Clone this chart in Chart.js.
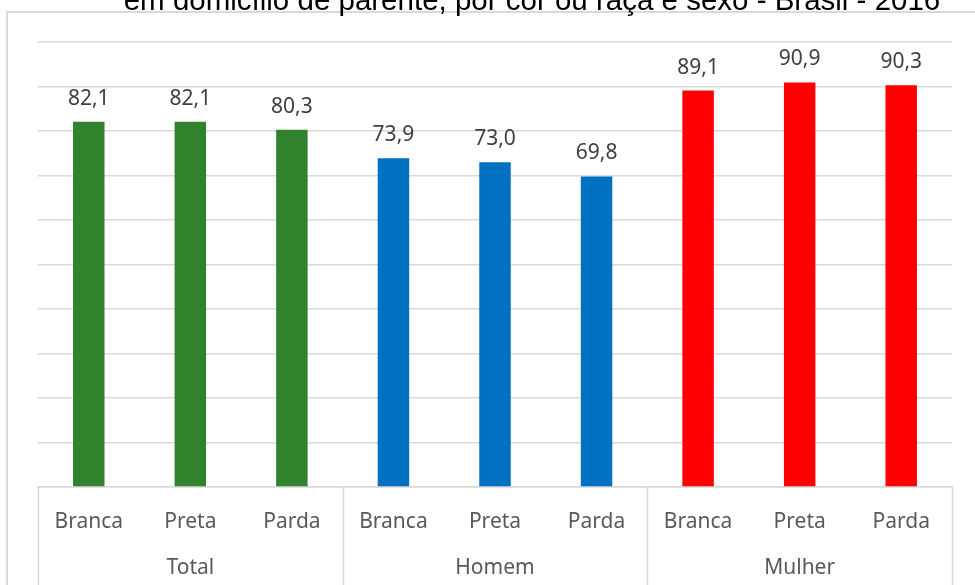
<!DOCTYPE html>
<html>
<head>
<meta charset="utf-8">
<script src="https://cdn.jsdelivr.net/npm/chart.js@4.4.1/dist/chart.umd.min.js"></script>
<style>
    body { margin: 0; background: #fff; overflow: hidden; }
    #wrap { position: relative; width: 975px; height: 585px; }
    #title {
        position: absolute; left: 0; width: 1064px; top: -15px;
        text-align: center; font: 29.5px "Liberation Sans", Arial, sans-serif;
        line-height: 30px; color: #000; white-space: nowrap; z-index: 2;
    }
    canvas { position: absolute; left: 0; top: 0; }
</style>
</head>
<body>
<div id="wrap">
    <div id="title">em domicílio de parente, por cor ou raça e sexo - Brasil - 2016</div>
    <canvas id="myChart" width="975" height="585"></canvas>
</div>
<script>
// Data
const categories = ["Branca", "Preta", "Parda", "Branca", "Preta", "Parda", "Branca", "Preta", "Parda"];
const groups = ["Total", "Homem", "Mulher"];
const values = [82.1, 82.1, 80.3, 73.9, 73.0, 69.8, 89.1, 90.9, 90.3];
const groupColors = ["#31822c", "#0070c0", "#ff0000"];

const barColors = values.map((v, i) => groupColors[Math.floor(i / 3)]);
const gray = "#d9d9d9";
const labelFont = '21px "Noto Sans", sans-serif';

// frame, group labels and separators
const decorPlugin = {
    id: "decor",
    beforeDraw(chart) {
        const ctx = chart.ctx;
        ctx.save();
        ctx.strokeStyle = gray;
        ctx.lineWidth = 2;
        ctx.strokeRect(7, 12, 1100, 1100);
        ctx.restore();
    },
    afterDraw(chart) {
        const ctx = chart.ctx;
        const area = chart.chartArea;
        const x = chart.scales.x;
        const step = (area.right - area.left) / categories.length;
        ctx.save();
        ctx.strokeStyle = gray;
        ctx.lineWidth = 1.5;
        for (let g = 0; g <= groups.length; g++) {
            const px = Math.round(area.left + g * 3 * step) + 0.5;
            ctx.beginPath();
            ctx.moveTo(px, area.bottom);
            ctx.lineTo(px, 590);
            ctx.stroke();
        }
        ctx.fillStyle = "#595959";
        ctx.font = labelFont;
        ctx.textAlign = "center";
        ctx.textBaseline = "middle";
        groups.forEach((g, i) => {
            const cx = x.getPixelForValue(i * 3 + 1);
            ctx.fillText(g, cx, 568);
        });
        ctx.restore();
    },
    afterDatasetsDraw(chart) {
        const ctx = chart.ctx;
        const meta = chart.getDatasetMeta(0);
        ctx.save();
        ctx.fillStyle = "#404040";
        ctx.font = labelFont;
        ctx.textAlign = "center";
        ctx.textBaseline = "alphabetic";
        meta.data.forEach((bar, i) => {
            ctx.fillText(values[i].toFixed(1).replace(".", ","), bar.x, bar.y - 17);
        });
        ctx.restore();
    }
};

const ctx = document.getElementById("myChart").getContext("2d");
new Chart(ctx, {
    type: "bar",
    data: {
        labels: categories,
        datasets: [{
            data: values,
            backgroundColor: barColors,
            categoryPercentage: 1,
            barPercentage: 0.31
        }]
    },
    options: {
        responsive: false,
        animation: false,
        layout: { padding: { left: 38, right: 23, top: 42, bottom: 0 } },
        plugins: {
            legend: { display: false },
            tooltip: { enabled: false },
            title: { display: false }
        },
        scales: {
            x: {
                grid: { display: false },
                border: { color: gray, width: 1.5 },
                ticks: {
                    color: "#595959",
                    font: { family: "Noto Sans", size: 21 },
                    padding: 14,
                    maxRotation: 0,
                    autoSkip: false
                },
                afterFit(scale) { scale.height = 98; }
            },
            y: {
                min: 0,
                max: 100,
                ticks: { display: false, stepSize: 10 },
                grid: { color: gray, lineWidth: 1.5, drawTicks: false },
                border: { display: false },
                afterFit(scale) { scale.width = 0; }
            }
        }
    },
    plugins: [decorPlugin]
});
</script>
</body>
</html>
